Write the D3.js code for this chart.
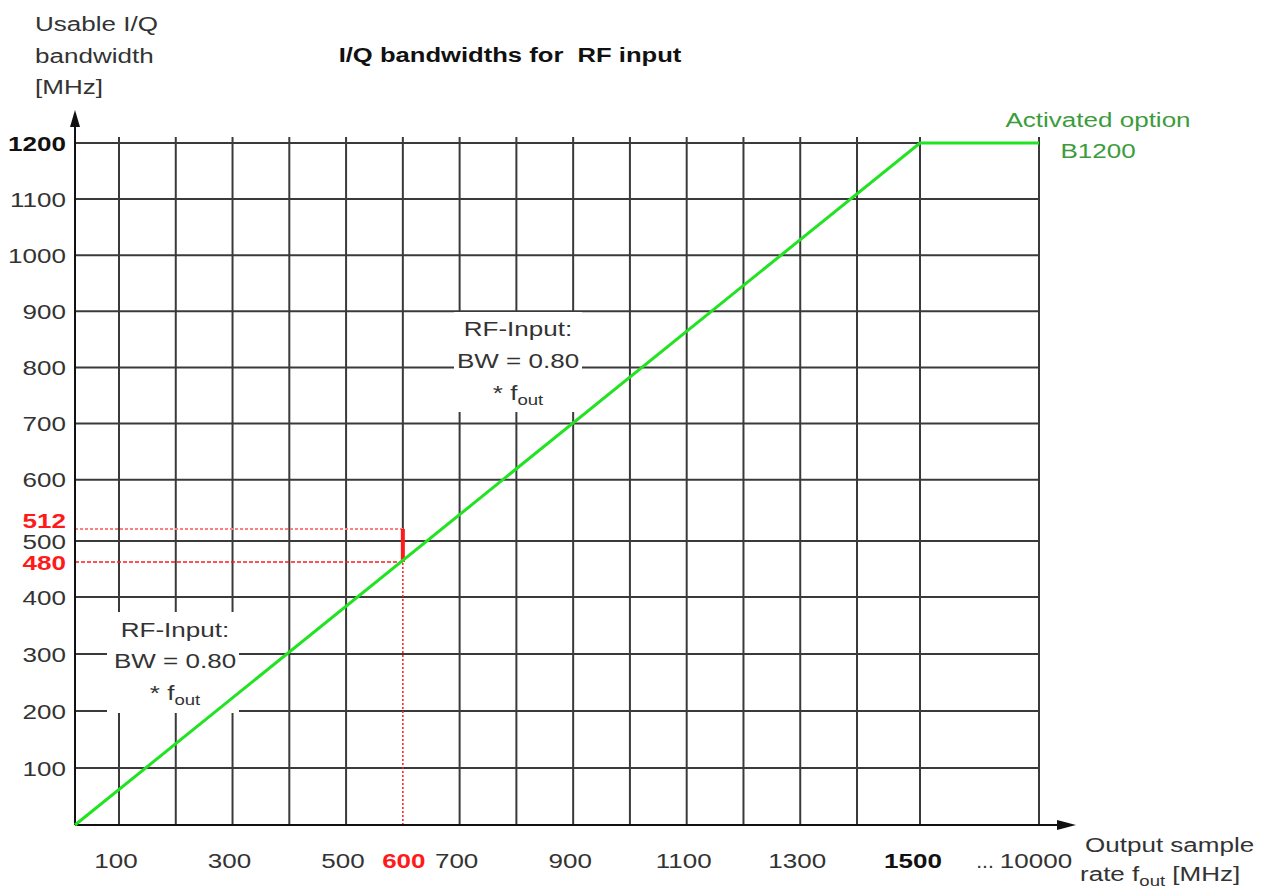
<!DOCTYPE html>
<html><head><meta charset="utf-8">
<script src="https://cdn.jsdelivr.net/npm/d3@7"></script>
<style>
body{margin:0;background:#fff}
text{font-family:"Liberation Sans",Arial,Helvetica,sans-serif;white-space:pre}
</style>
</head><body>
<svg id="c" width="1266" height="889"></svg>
<script>
// ---- data ----
const xGridValues = [100,200,300,400,500,600,700,800,900,1000,1100,1200,1300,1400,1500,10000];
const xTickLabels = [100,300,500,600,700,900,1100,1300,1500,10000];
const yGridValues = [100,200,300,400,500,600,700,800,900,1000,1100,1200];
const yTickLabels = [100,200,300,400,500,600,700,800,900,1000,1100,1200];
const markerRate = 600;
const markerBwLow = 480;
const markerBwHigh = 512;
const bwRate = [0, 1500, 10000];
const bwValue = [0, 1200, 1200];

// ---- layout ----
const SX = 1.24, FS = 21;
const svg = d3.select('#c');
// schematic (piecewise) scales as in the original drawing
const x = d3.scaleLinear().domain([0,100,1400,1500,10000]).range([75,119,857,920,1039]);
const y = d3.scaleLinear().domain([0,400,480,500,512,1200]).range([825,597,562,541,529,143]);
const gridColor = '#3a3a3a';
const red = '#ff1a1a';
const green = '#22e322';
const greenText = '#3c9c3c';

function txt(px, py, str, o={}) {
  const t = svg.append('text')
    .attr('transform', `translate(${px},${py}) scale(${o.sx||SX},1)`)
    .attr('font-size', o.size||FS)
    .attr('fill', o.fill||'#222')
    .attr('font-weight', o.bold?'bold':'normal')
    .attr('text-anchor', o.anchor||'start')
    .attr('xml:space', 'preserve');
  if (o.sub) {
    t.append('tspan').text(str);
    t.append('tspan').attr('font-size', 15).attr('dy', 5).text(o.sub);
    if (o.after) t.append('tspan').attr('dy', -5).text(o.after);
  } else t.text(str);
  return t;
}

// vertical grid lines
xGridValues.forEach(v => {
  const bottom = v === markerRate ? y(markerBwHigh) : y(0);
  svg.append('line').attr('x1', x(v)).attr('x2', x(v)).attr('y1', bottom).attr('y2', y(1200)-6)
    .attr('stroke', gridColor).attr('stroke-width', 2);
});
// horizontal grid lines
yGridValues.forEach(v => {
  svg.append('line').attr('x1', x(0)).attr('x2', x(10000)).attr('y1', y(v)).attr('y2', y(v))
    .attr('stroke', gridColor).attr('stroke-width', 2);
});

// white annotation boxes (cover grid)
function box(cx, top, w, h) {
  svg.append('rect').attr('x', cx - w/2).attr('y', top).attr('width', w).attr('height', h).attr('fill', '#fff');
}
box(173, 612, 132, 101);
box(518, 312, 128, 100);

// red marker lines
svg.append('line').attr('x1', x(0)).attr('x2', x(markerRate)).attr('y1', y(markerBwHigh)).attr('y2', y(markerBwHigh))
  .attr('stroke', '#ff8080').attr('stroke-width', 2).attr('stroke-dasharray', '3,2');
svg.append('line').attr('x1', x(0)).attr('x2', x(markerRate)).attr('y1', y(markerBwLow)).attr('y2', y(markerBwLow))
  .attr('stroke', red).attr('stroke-width', 1.6).attr('stroke-dasharray', '4,2');
svg.append('line').attr('x1', x(markerRate)).attr('x2', x(markerRate)).attr('y1', y(0)).attr('y2', y(markerBwLow))
  .attr('stroke', red).attr('stroke-width', 1.5).attr('stroke-dasharray', '2,2');
svg.append('line').attr('x1', x(markerRate)).attr('x2', x(markerRate)).attr('y1', y(markerBwLow)).attr('y2', y(markerBwHigh))
  .attr('stroke', red).attr('stroke-width', 4);

// axes
svg.append('line').attr('x1', x(0)).attr('x2', x(0)).attr('y1', y(0)).attr('y2', 122).attr('stroke', '#111').attr('stroke-width', 2);
svg.append('path').attr('d', `M${x(0)},110 L${x(0)-5},127 L${x(0)+5},127 Z`).attr('fill', '#111');
svg.append('line').attr('x1', x(0)).attr('x2', 1062).attr('y1', y(0)).attr('y2', y(0)).attr('stroke', '#111').attr('stroke-width', 2);
svg.append('path').attr('d', `M1076,${y(0)} L1057,${y(0)-5} L1057,${y(0)+5} Z`).attr('fill', '#111');

// green bandwidth line
const pts = bwRate.map((r,i) => [r, bwValue[i]]);
svg.append('path').datum(pts)
  .attr('d', d3.line().x(d => x(d[0])).y(d => y(d[1])))
  .attr('fill', 'none').attr('stroke', green).attr('stroke-width', 3);

// y tick labels
yTickLabels.forEach(v => {
  txt(66, y(v) + 7.5, String(v), {anchor: 'end', bold: v === 1200, fill: v === 1200 ? '#111' : '#333'});
});
txt(66, y(markerBwHigh) - 1, String(markerBwHigh), {anchor: 'end', bold: true, fill: red});
txt(66, y(markerBwLow) + 7.5, String(markerBwLow), {anchor: 'end', bold: true, fill: red});

// x tick labels
xTickLabels.forEach(v => {
  const special = v === markerRate;
  const dx = v === 1500 ? -7 : (special ? 1 : -3);
  txt(x(v) + dx, 868, String(v), {anchor: 'middle', bold: special || v === 1500,
    fill: special ? red : (v === 1500 ? '#111' : '#333')});
});
txt(985, 868, '...', {anchor: 'middle', fill: '#333', sx: 1});

// axis titles
txt(35, 31, 'Usable I/Q', {fill: '#333'});
txt(35, 63, 'bandwidth', {fill: '#333'});
txt(35, 94, '[MHz]', {fill: '#333'});
txt(1085, 852, 'Output sample', {fill: '#333'});
txt(1080, 881, 'rate f', {fill: '#333', sub: 'out', after: ' [MHz]'});

// chart title
txt(510, 62, 'I/Q bandwidths for  RF input', {anchor: 'middle', bold: true, fill: '#111', sx: 1.22});

// annotations
txt(175, 637, 'RF-Input:', {anchor: 'middle', fill: '#333'});
txt(175, 668, 'BW = 0.80', {anchor: 'middle', fill: '#333'});
txt(175, 700, '* f', {anchor: 'middle', fill: '#333', sub: 'out'});
txt(518, 336, 'RF-Input:', {anchor: 'middle', fill: '#333'});
txt(518, 368, 'BW = 0.80', {anchor: 'middle', fill: '#333'});
txt(518, 400, '* f', {anchor: 'middle', fill: '#333', sub: 'out'});

txt(1098, 127, 'Activated option', {anchor: 'middle', fill: greenText});
txt(1098, 158, 'B1200', {anchor: 'middle', fill: greenText});
</script>
</body></html>
